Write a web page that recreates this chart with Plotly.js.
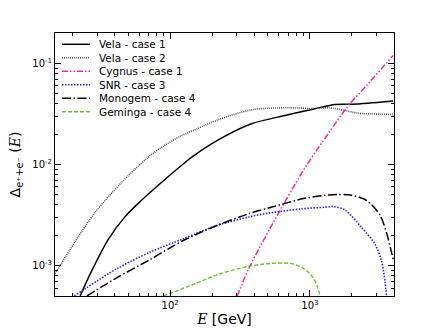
<!DOCTYPE html>
<html>
<head>
<meta charset="utf-8">
<script src="https://cdn.plot.ly/plotly-3.0.1.min.js"></script>
<style>
  html, body { margin: 0; padding: 0; background: #fff; }
  #chart { width: 438px; height: 329px; }
</style>
</head>
<body>
<div id="chart"></div>
<script>
// values (E in GeV, Delta dimensionless)
const seriesNames = ['Vela - case 1', 'Vela - case 2', 'Cygnus - case 1', 'SNR - case 3', 'Monogem - case 4', 'Geminga - case 4'];

const energyVela1 = [22.7, 27.5, 36.2, 47.6, 62.7, 80.3, 118, 139, 221, 382, 662, 1086, 1511, 1986, 2614, 3945];
const deltaVela1 = [5e-4, 8.9e-4, 1.83e-3, 3.05e-3, 4.45e-3, 6.06e-3, 9.55e-3, 0.0115, 0.0175, 0.0253, 0.0305, 0.0356, 0.0393, 0.0395, 0.0404, 0.0424];

const energyVela2 = [15, 20.9, 29, 45, 68, 89.6, 118, 155, 222, 382, 662, 1086, 1352, 1778, 2218, 3945];
const deltaVela2 = [8.3e-4, 1.73e-3, 3.35e-3, 6.66e-3, 0.0115, 0.0152, 0.019, 0.0225, 0.0278, 0.0348, 0.0364, 0.0358, 0.0364, 0.0343, 0.0322, 0.0313];

const energyCygnus = [302, 361, 520, 896, 1146, 1880, 2614, 3945];
const deltaCygnus = [5e-4, 9e-4, 2.35e-3, 8.7e-3, 0.0145, 0.038, 0.063, 0.12];

const energySNR = [20.6, 41.5, 72, 124, 216, 374, 505, 871, 1279, 1466, 1778, 2339, 2917, 3252, 3443, 3537];
const deltaSNR = [5e-4, 9.3e-4, 1.36e-3, 1.84e-3, 2.49e-3, 3.05e-3, 3.3e-3, 3.64e-3, 3.78e-3, 3.84e-3, 3.56e-3, 2.39e-3, 1.64e-3, 1.12e-3, 7.1e-4, 5e-4];

const energyMonogem = [25.4, 40.4, 72, 124, 216, 374, 520, 900, 1279, 1560, 1941, 2557, 3186, 3557, 3760, 3970];
const deltaMonogem = [5e-4, 7.4e-4, 1.15e-3, 1.77e-3, 2.49e-3, 3.3e-3, 3.75e-3, 4.6e-3, 4.95e-3, 5.05e-3, 5.0e-3, 4.4e-3, 3.13e-3, 2.06e-3, 1.52e-3, 1.12e-3];

const energyGeminga = [89.6, 150, 228, 361, 520, 722, 900, 1061, 1130, 1186];
const deltaGeminga = [5e-4, 6.6e-4, 8.3e-4, 9.8e-4, 1.05e-3, 1.05e-3, 9.4e-4, 7.5e-4, 6.2e-4, 5e-4];

const xTickVals = [100, 1000];
const xTickText = ['10<sup>2</sup>', '10<sup>3</sup>'];
const yTickVals = [0.001, 0.01, 0.1];
const yTickText = ['10<sup>-3</sup>', '10<sup>-2</sup>', '10<sup>-1</sup>'];

const styles = [
    { color: '#000000', dash: 'solid', width: 1.5 },
    { color: '#555555', dash: '1px,1px', width: 1.6 },
    { color: '#ff1fa8', dash: '6px,2px,1.5px,2px,1.5px,2px', width: 1.5 },
    { color: '#1f1fff', dash: '1.5px,1.5px', width: 1.6 },
    { color: '#000000', dash: '9px,2.5px,1.5px,2.5px', width: 1.5 },
    { color: '#66c22e', dash: '4px,2px', width: 1.4 }
];

const xs = [energyVela1, energyVela2, energyCygnus, energySNR, energyMonogem, energyGeminga];
const ys = [deltaVela1, deltaVela2, deltaCygnus, deltaSNR, deltaMonogem, deltaGeminga];

const traces = xs.map((x, i) => ({
    x: x,
    y: ys[i],
    mode: 'lines',
    name: seriesNames[i],
    line: { color: styles[i].color, dash: styles[i].dash, width: styles[i].width, shape: 'spline', smoothing: 0.8 },
    showlegend: false,
    hoverinfo: 'skip'
}));

// plot box in pixels, used for the hand made legend
const L = 55, R = 394, T = 33, B = 296;
const px = v => (v - L) / (R - L);
const py = v => (B - v) / (B - T);

const shapes = [];
const annotations = [];
seriesNames.forEach((name, i) => {
    let yy = 44.3 + i * 13.5;
    shapes.push({
        type: 'line', xref: 'paper', yref: 'paper',
        x0: px(62), x1: px(90), y0: py(yy), y1: py(yy),
        line: { color: styles[i].color, dash: styles[i].dash, width: styles[i].width }
    });
    annotations.push({
        xref: 'paper', yref: 'paper', x: px(97), y: py(yy),
        xanchor: 'left', yanchor: 'middle', showarrow: false,
        text: name, font: { size: 10.5, color: '#000' }
    });
});

const minorX = [20, 30, 40, 50, 60, 70, 80, 90, 200, 300, 400, 500, 600, 700, 800, 900, 2000, 3000, 4000];
const minorY = [6e-4, 7e-4, 8e-4, 9e-4, 2e-3, 3e-3, 4e-3, 5e-3, 6e-3, 7e-3, 8e-3, 9e-3, 0.02, 0.03, 0.04, 0.05, 0.06, 0.07, 0.08, 0.09, 0.2];

const layout = {
    width: 438,
    height: 329,
    margin: { l: L, r: 438 - R, t: T, b: 329 - B },
    paper_bgcolor: '#fff',
    plot_bgcolor: '#fff',
    font: { family: 'DejaVu Sans, sans-serif', color: '#000', size: 10 },
    xaxis: {
        type: 'log',
        range: [Math.log10(15), Math.log10(4000)],
        tickmode: 'array', tickvals: xTickVals, ticktext: xTickText,
        ticks: 'inside', ticklen: 6, tickwidth: 1, tickcolor: '#000',
        minor: { tickmode: 'array', tickvals: minorX, ticks: 'inside', ticklen: 3, tickwidth: 1, tickcolor: '#000', showgrid: false },
        showline: true, linecolor: '#000', linewidth: 1, mirror: 'allticks',
        showgrid: false, zeroline: false,
        tickfont: { size: 10 },
        title: { text: '<span style="font-family:DejaVu Serif"><i>E</i></span> [GeV]', font: { size: 14 }, standoff: 4 }
    },
    yaxis: {
        type: 'log',
        range: [Math.log10(5e-4), Math.log10(0.2)],
        tickmode: 'array', tickvals: yTickVals, ticktext: yTickText,
        ticks: 'inside', ticklen: 6, tickwidth: 1, tickcolor: '#000',
        minor: { tickmode: 'array', tickvals: minorY, ticks: 'inside', ticklen: 3, tickwidth: 1, tickcolor: '#000', showgrid: false },
        showline: true, linecolor: '#000', linewidth: 1, mirror: 'allticks',
        showgrid: false, zeroline: false,
        tickfont: { size: 10 },
        title: { text: 'Δ<sub>e⁺+e⁻</sub> (<span style="font-family:DejaVu Serif"><i>E</i></span>)', font: { size: 14 }, standoff: 8 }
    },
    shapes: shapes,
    annotations: annotations
};

Plotly.newPlot('chart', traces, layout, { staticPlot: true, displayModeBar: false });
</script>
</body>
</html>
